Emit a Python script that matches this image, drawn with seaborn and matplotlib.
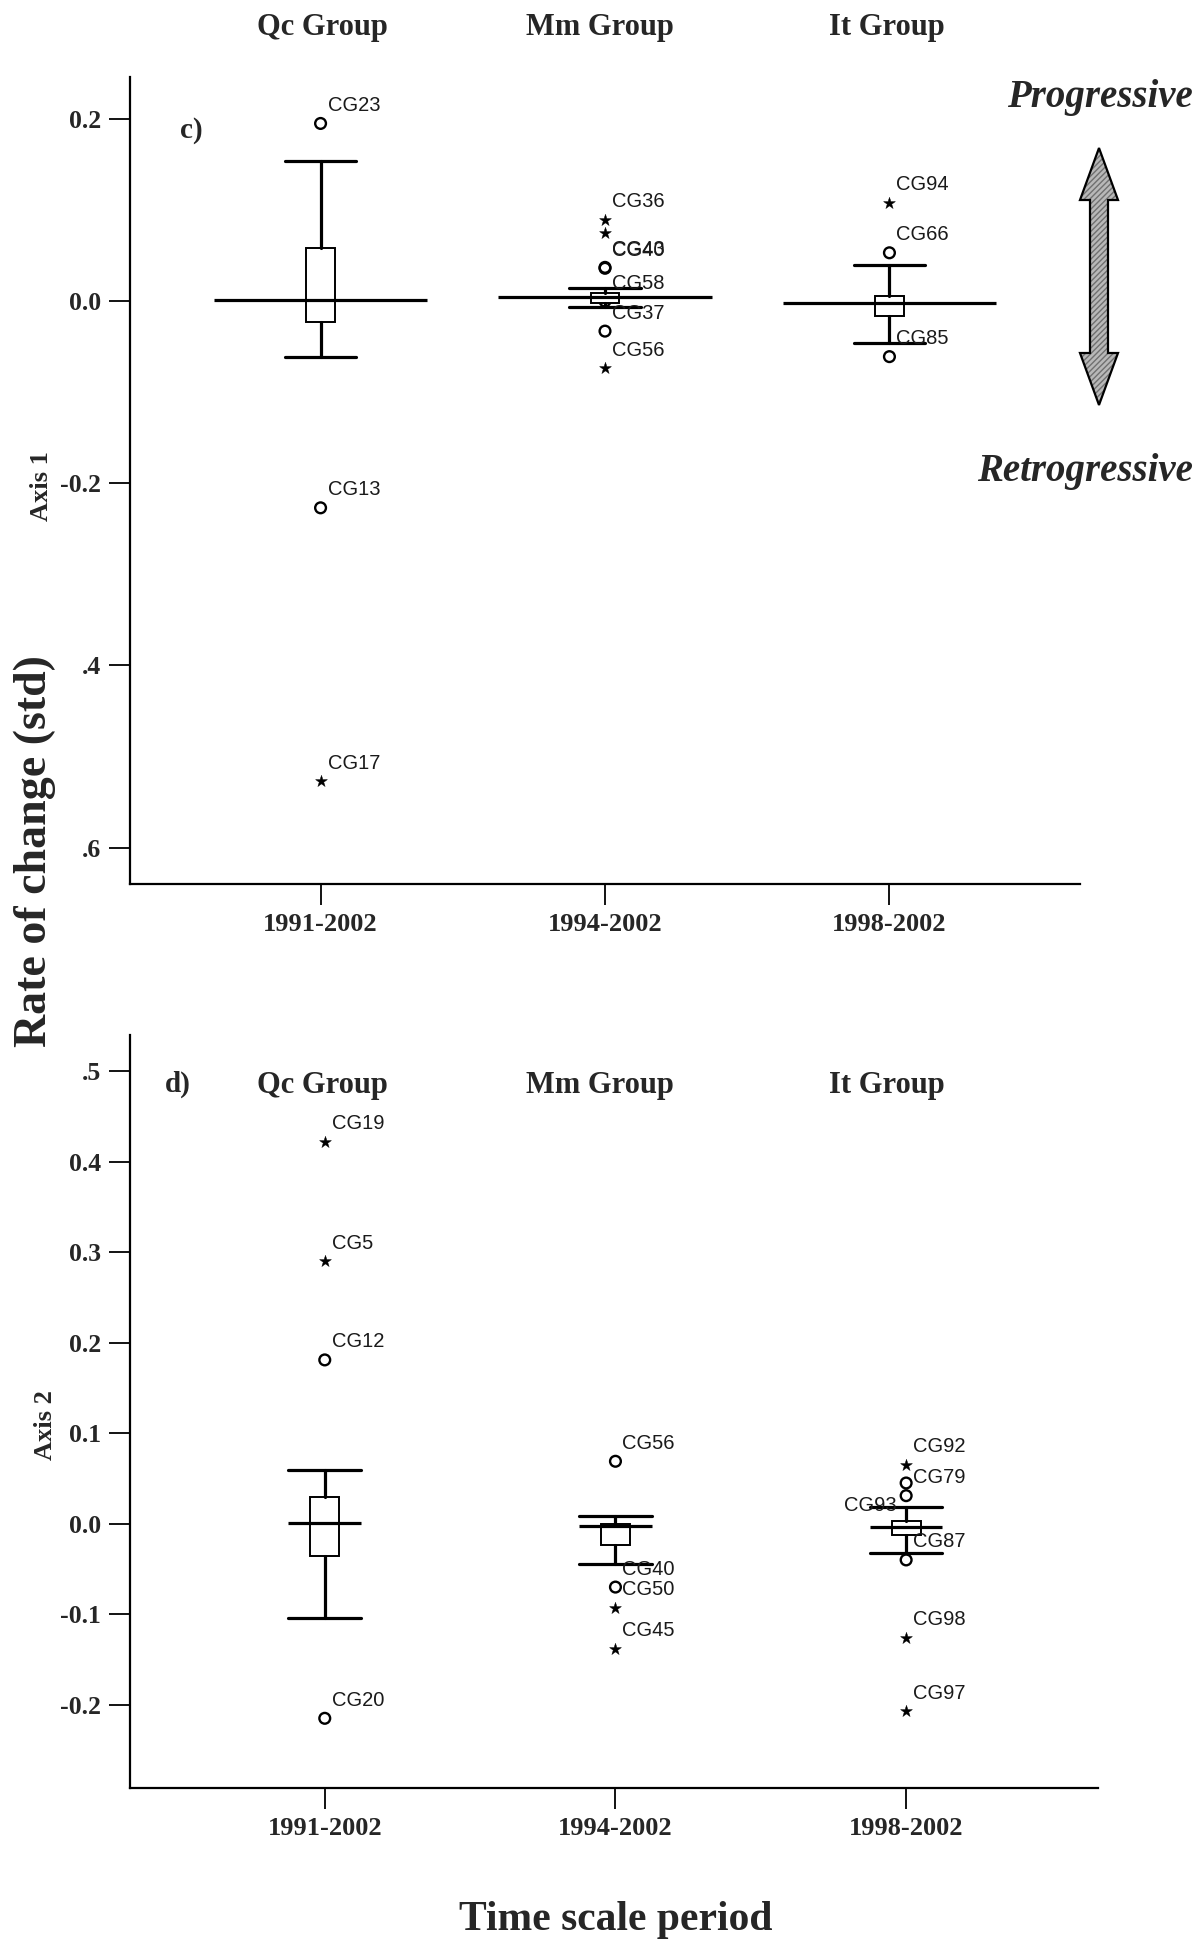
import matplotlib
matplotlib.use("Agg")
import matplotlib.pyplot as plt
from matplotlib.patches import Polygon
import pandas as pd
import seaborn as sns

# ---------------------------------------------------------------- data
periods = ["1991-2002", "1994-2002", "1998-2002"]
groups = ["Qc Group", "Mm Group", "It Group"]

# Axis 1 (panel c): box statistics per period
ax1_whislo = [-0.061, -0.006, -0.046]
ax1_q1 = [-0.023, -0.002, -0.016]
ax1_med = [0.001, 0.005, -0.002]
ax1_q3 = [0.058, 0.009, 0.006]
ax1_whishi = [0.154, 0.014, 0.040]

# Axis 1 outliers (o) and extremes (*)
ax1_out_period = [0, 0, 0, 1, 1, 1, 1, 1, 1, 1, 2, 2, 2]
ax1_out_value = [0.195, -0.227, -0.527, 0.089, 0.075, 0.037, 0.036, 0.000,
                 -0.033, -0.074, 0.108, 0.053, -0.061]
ax1_out_kind = ["o", "o", "*", "*", "*", "o", "o", "o", "o", "*", "*", "o", "o"]
ax1_out_case = ["CG23", "CG13", "CG17", "CG36", "", "CG43", "CG40", "CG58",
                "CG37", "CG56", "CG94", "CG66", "CG85"]

# Axis 2 (panel d): box statistics per period
ax2_whislo = [-0.104, -0.045, -0.032]
ax2_q1 = [-0.036, -0.023, -0.012]
ax2_med = [0.001, -0.003, -0.004]
ax2_q3 = [0.030, 0.000, 0.003]
ax2_whishi = [0.059, 0.008, 0.018]

# Axis 2 outliers (o) and extremes (*)
ax2_out_period = [0, 0, 0, 0, 1, 1, 1, 1, 2, 2, 2, 2, 2, 2]
ax2_out_value = [0.422, 0.290, 0.181, -0.215, 0.069, -0.070, -0.093, -0.138,
                 0.065, 0.045, 0.031, -0.040, -0.126, -0.207]
ax2_out_kind = ["*", "*", "o", "o", "o", "o", "*", "*", "*", "o", "o", "o", "*", "*"]
ax2_out_case = ["CG19", "CG5", "CG12", "CG20", "CG56", "CG40", "CG50", "CG45",
                "CG92", "CG93", "CG79", "CG87", "CG98", "CG97"]

ax1_ticks = [0.2, 0.0, -0.2, -0.4, -0.6]
ax1_ticklabels = ["0.2", "0.0", "-0.2", ".4", ".6"]
ax2_ticks = [0.5, 0.4, 0.3, 0.2, 0.1, 0.0, -0.1, -0.2]
ax2_ticklabels = [".5", "0.4", "0.3", "0.2", "0.1", "0.0", "-0.1", "-0.2"]

# ---------------------------------------------------------------- style
sns.set_style("ticks")
SERIF = ["Liberation Serif", "DejaVu Serif"]
NARROW = ["Liberation Sans Narrow", "Liberation Sans", "DejaVu Sans"]
plt.rcParams["font.family"] = SERIF
plt.rcParams["axes.edgecolor"] = "black"
plt.rcParams["axes.linewidth"] = 1.6

W, H = 1204, 1945
fig = plt.figure(figsize=(W / 100, H / 100), dpi=100)
fig.patch.set_facecolor("white")


def rect(left, right, top, bottom):
    return [left / W, 1 - bottom / H, (right - left) / W, (bottom - top) / H]


def fx(x):
    return x / W


def fy(y):
    return 1 - y / H


def draw_panel(ax, whislo, q1, med, q3, whishi, out_p, out_v, out_k, out_c,
               median_width, ylim, xlim, ticks, ticklabels, label_offsets):
    stats = [dict(whislo=a, q1=b, med=c, q3=d, whishi=e, fliers=[])
             for a, b, c, d, e in zip(whislo, q1, med, q3, whishi)]
    pos = list(range(len(stats)))
    ax.bxp(stats, positions=pos, widths=0.10, capwidths=0.25,
           showfliers=False, patch_artist=True,
           boxprops=dict(facecolor="white", edgecolor="black", linewidth=1.4, zorder=3),
           whiskerprops=dict(color="black", linewidth=2.3, zorder=3),
           capprops=dict(color="black", linewidth=2.3, zorder=3),
           medianprops=dict(linewidth=0))
    ax.hlines(med, [p - median_width / 2 for p in pos],
              [p + median_width / 2 for p in pos],
              color="black", linewidth=2.3, zorder=4)

    df = pd.DataFrame(dict(period=out_p, value=out_v, kind=out_k, case=out_c))
    circ = df[df["kind"] == "o"]
    star = df[df["kind"] == "*"]
    sns.scatterplot(data=circ, x="period", y="value", marker="o", s=60,
                    facecolors="none", edgecolor="black", linewidth=1.7,
                    ax=ax, zorder=2, legend=False)
    ax.collections[-1].set_facecolor("none")
    ax.collections[-1].set_edgecolor("black")
    sns.scatterplot(data=star, x="period", y="value", marker="*", s=80,
                    color="black", edgecolor="black", linewidth=0.3,
                    ax=ax, zorder=2, legend=False)

    for _, r in df.iterrows():
        if not r["case"]:
            continue
        dx, dy, ha = label_offsets.get(r["case"], (5, 13, "left"))
        ax.annotate(r["case"], (r["period"], r["value"]), xytext=(dx, dy),
                    textcoords="offset points", ha=ha, va="center",
                    fontsize=14.5, color="#1a1a1a", family=NARROW, zorder=5)

    ax.set_xlim(*xlim)
    ax.set_ylim(*ylim)
    ax.set_xticks(pos)
    ax.set_xticklabels(periods)
    ax.set_yticks(ticks)
    ax.set_yticklabels(ticklabels)
    ax.set_xlabel("")
    ax.set_ylabel("")
    ax.tick_params(axis="both", length=15, width=1.3, color="black",
                   labelsize=19, pad=6)
    for t in ax.get_xticklabels() + ax.get_yticklabels():
        t.set_fontweight("bold")
        t.set_family(SERIF)
    ax.tick_params(axis="y", labelsize=18.5)
    sns.despine(ax=ax)
    ax.set_facecolor("white")


# ---------------------------------------------------------------- panel c
ax_c = fig.add_axes(rect(130, 1080, 77, 884))
draw_panel(ax_c, ax1_whislo, ax1_q1, ax1_med, ax1_q3, ax1_whishi,
           ax1_out_period, ax1_out_value, ax1_out_kind, ax1_out_case,
           median_width=0.75, ylim=(-0.640, 0.246), xlim=(-0.67, 2.67),
           ticks=ax1_ticks, ticklabels=ax1_ticklabels, label_offsets={})

# ---------------------------------------------------------------- panel d
ax_d = fig.add_axes(rect(130, 1098, 1035, 1788))
draw_panel(ax_d, ax2_whislo, ax2_q1, ax2_med, ax2_q3, ax2_whishi,
           ax2_out_period, ax2_out_value, ax2_out_kind, ax2_out_case,
           median_width=0.25, ylim=(-0.292, 0.540), xlim=(-0.67, 2.66),
           ticks=ax2_ticks, ticklabels=ax2_ticklabels,
           label_offsets={"CG93": (-7, -16, "right")})

# ---------------------------------------------------------------- annotations
title_x = [322, 600, 887]
for gx, g in zip(title_x, groups):
    fig.text(fx(gx), fy(27), g, ha="center", va="center", fontsize=22,
             fontweight="bold", family=SERIF)
    fig.text(fx(gx), fy(1085), g, ha="center", va="center", fontsize=22,
             fontweight="bold", family=SERIF)

fig.text(fx(191), fy(130), "c)", ha="center", va="center", fontsize=21,
         fontweight="bold", family=SERIF)
fig.text(fx(178), fy(1084), "d)", ha="center", va="center", fontsize=21,
         fontweight="bold", family=SERIF)

fig.text(fx(41), fy(486), "Axis 1", rotation=90, ha="center", va="center",
         fontsize=19, fontweight="bold", family=SERIF)
fig.text(fx(45), fy(1425), "Axis 2", rotation=90, ha="center", va="center",
         fontsize=19, fontweight="bold", family=SERIF)
fig.text(fx(35), fy(851), "Rate of change (std)", rotation=90, ha="center",
         va="center", fontsize=33, fontweight="bold", family=SERIF)
fig.text(fx(616), fy(1920), "Time scale period", ha="center", va="center",
         fontsize=30, fontweight="bold", family=SERIF)

fig.text(fx(1193), fy(97), "Progressive", ha="right", va="center",
         fontsize=28, fontweight="bold", fontstyle="italic", family=SERIF)
fig.text(fx(1193), fy(471), "Retrogressive", ha="right", va="center",
         fontsize=28, fontweight="bold", fontstyle="italic", family=SERIF)

# double-headed arrow between the two direction labels
cx, tip_top, hb_top, hb_bot, tip_bot, hw, sw = 1099, 148, 200, 353, 405, 19, 9
outline = [(cx, tip_top), (cx + hw, hb_top), (cx + sw, hb_top), (cx + sw, hb_bot),
           (cx + hw, hb_bot), (cx, tip_bot), (cx - hw, hb_bot), (cx - sw, hb_bot),
           (cx - sw, hb_top), (cx - hw, hb_top)]
pts = [(fx(x), fy(y)) for x, y in outline]
fig.add_artist(Polygon(pts, closed=True, transform=fig.transFigure,
                       facecolor="#b8b8b8", edgecolor="#707070", hatch="//////",
                       linewidth=0))
fig.add_artist(Polygon(pts, closed=True, transform=fig.transFigure,
                       facecolor="none", edgecolor="black", linewidth=1.6))

fig.savefig("out.png", dpi=100, facecolor="white")
